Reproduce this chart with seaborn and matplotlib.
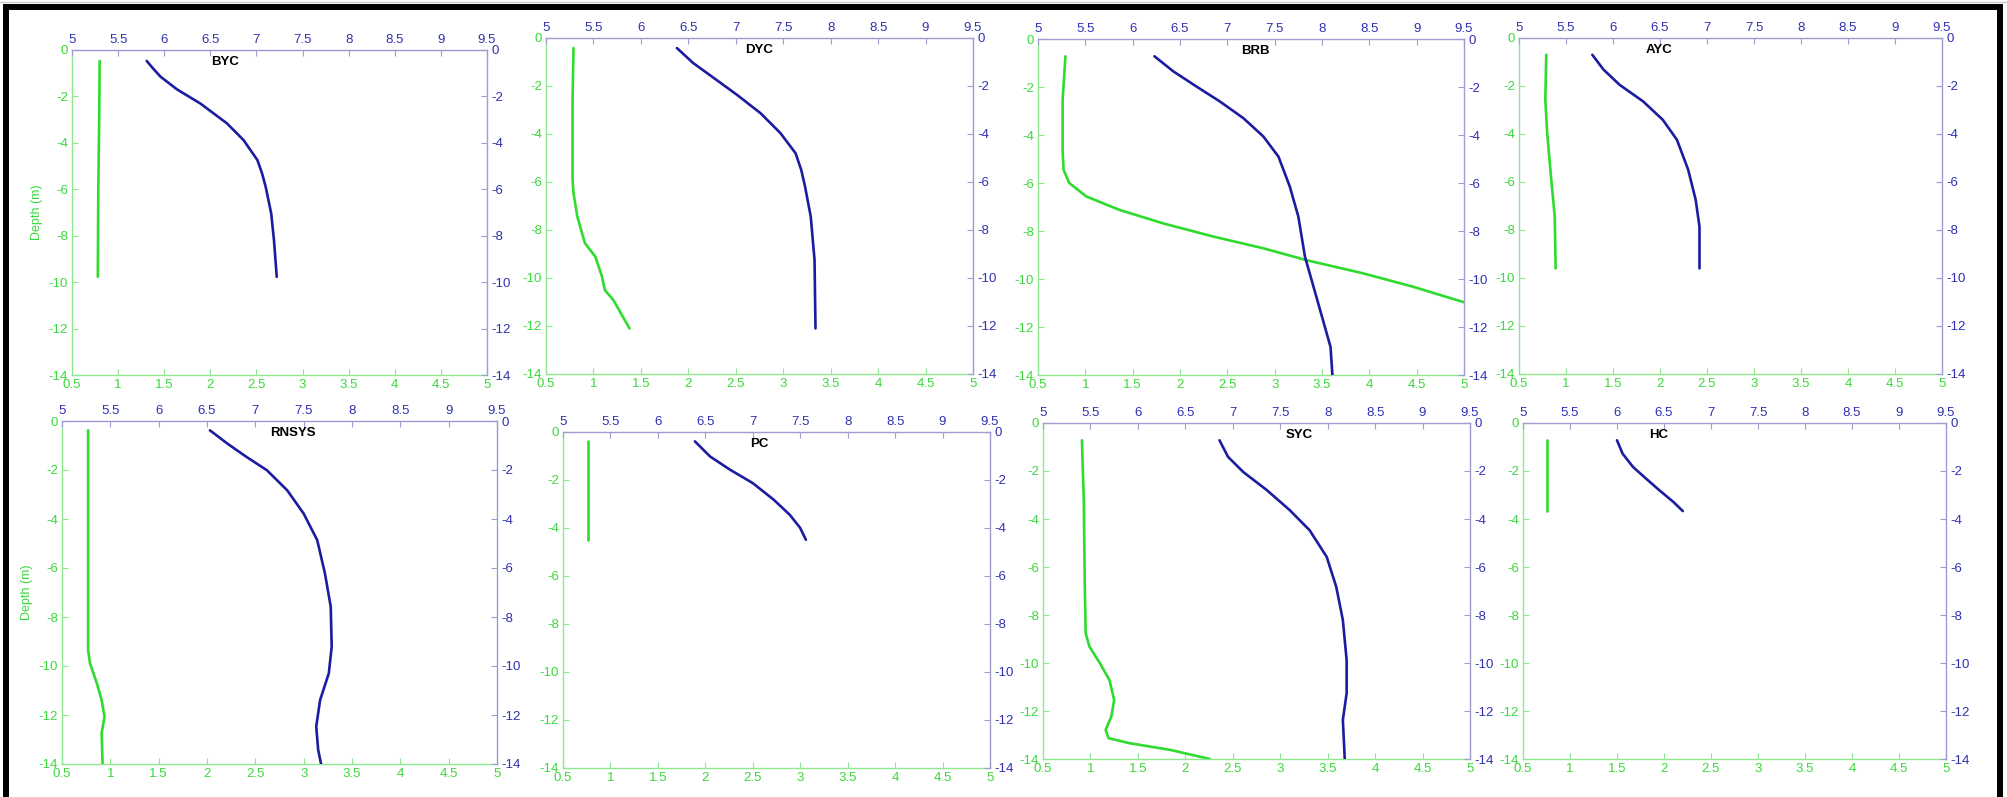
import matplotlib
matplotlib.use("Agg")
import matplotlib.pyplot as plt
import seaborn as sns
from matplotlib.ticker import FuncFormatter, MultipleLocator
from matplotlib.patches import Rectangle

sns.set_theme(style="white")
plt.rcParams['font.family'] = ['Liberation Sans', 'DejaVu Sans']
plt.rcParams['axes.unicode_minus'] = False

# ---- profile data (green on bottom scale 0.5-5, blue on top scale 5-9.5) ----
byc_g_depth = [-0.47, -3.0, -6.0, -9.77]
byc_green = [0.80, 0.795, 0.785, 0.78]
byc_b_depth = [-0.47, -0.8, -1.15, -1.7, -2.3, -3.16, -3.88, -4.74, -5.3, -5.89, -7.04, -8.19, -9.77]
byc_blue = [5.81, 5.88, 5.96, 6.14, 6.39, 6.68, 6.86, 7.01, 7.06, 7.10, 7.16, 7.19, 7.22]

dyc_g_depth = [-0.42, -2.57, -5.91, -6.47, -7.44, -8.55, -9.11, -9.94, -10.5, -10.92, -12.1]
dyc_green = [0.79, 0.78, 0.78, 0.79, 0.83, 0.91, 1.02, 1.09, 1.12, 1.21, 1.38]
dyc_b_depth = [-0.42, -1.04, -1.67, -2.36, -3.13, -3.96, -4.80, -5.5, -6.19, -7.44, -9.25, -12.1]
dyc_blue = [6.38, 6.55, 6.77, 7.01, 7.26, 7.47, 7.63, 7.69, 7.73, 7.79, 7.83, 7.84]

brb_g_depth = [-0.72, -2.53, -4.62, -5.45, -6.0, -6.56, -7.12, -7.68, -8.23, -8.72, -9.21, -9.76, -10.32, -10.97]
brb_green = [0.79, 0.76, 0.76, 0.77, 0.83, 1.01, 1.36, 1.82, 2.35, 2.88, 3.33, 3.93, 4.46, 5.0]
brb_b_depth = [-0.72, -1.35, -1.97, -2.60, -3.30, -4.06, -4.90, -6.15, -7.40, -9.07, -10.04, -11.71, -12.83, -14.0]
brb_blue = [6.23, 6.43, 6.67, 6.92, 7.17, 7.38, 7.54, 7.66, 7.75, 7.82, 7.89, 8.01, 8.09, 8.11]

ayc_g_depth = [-0.70, -2.57, -3.96, -5.77, -7.44, -9.60]
ayc_green = [0.79, 0.78, 0.80, 0.84, 0.88, 0.89]
ayc_b_depth = [-0.70, -1.32, -1.95, -2.64, -3.41, -4.24, -5.49, -6.75, -7.86, -9.60]
ayc_blue = [5.78, 5.90, 6.07, 6.32, 6.53, 6.68, 6.80, 6.88, 6.92, 6.92]

rnsys_g_depth = [-0.38, -4.59, -9.35, -9.89, -10.7, -11.39, -12.07, -12.74, -14.0]
rnsys_green = [0.77, 0.77, 0.77, 0.79, 0.86, 0.91, 0.94, 0.91, 0.92]
rnsys_b_depth = [-0.38, -0.92, -1.47, -2.01, -2.83, -3.78, -4.86, -6.22, -7.58, -9.21, -10.3, -11.39, -12.47, -13.42, -14.0]
rnsys_blue = [6.53, 6.71, 6.91, 7.12, 7.33, 7.50, 7.64, 7.72, 7.78, 7.79, 7.76, 7.67, 7.63, 7.65, 7.68]

pc_g_depth = [-0.39, -4.49]
pc_green = [0.76, 0.76]
pc_b_depth = [-0.39, -1.02, -1.57, -2.13, -2.82, -3.45, -4.0, -4.49]
pc_blue = [6.39, 6.55, 6.76, 7.00, 7.22, 7.39, 7.50, 7.56]

syc_g_depth = [-0.72, -3.22, -6.69, -8.77, -9.32, -10.01, -10.71, -11.54, -12.23, -12.79, -13.13, -13.34, -13.62, -14.0]
syc_green = [0.91, 0.93, 0.94, 0.95, 0.99, 1.10, 1.20, 1.25, 1.22, 1.16, 1.19, 1.41, 1.84, 2.26]
syc_b_depth = [-0.72, -1.41, -2.04, -2.80, -3.63, -4.47, -5.58, -6.82, -8.21, -9.88, -11.26, -12.37, -14.0]
syc_blue = [6.86, 6.95, 7.11, 7.36, 7.60, 7.81, 7.99, 8.09, 8.16, 8.20, 8.20, 8.16, 8.18]

hc_g_depth = [-0.72, -3.67]
hc_green = [0.76, 0.76]
hc_b_depth = [-0.72, -1.28, -1.83, -2.32, -2.80, -3.29, -3.67]
hc_blue = [6.00, 6.06, 6.17, 6.31, 6.45, 6.60, 6.70]

stations = ["BYC", "DYC", "BRB", "AYC", "RNSYS", "PC", "SYC", "HC"]

# ---- layout (pixel boxes of each panel, title position in axes fraction) ----
W, H = 2007, 797
boxes = {
    "BYC": (72, 50, 487, 375), "DYC": (546, 38, 973, 374),
    "BRB": (1038, 39, 1464, 375), "AYC": (1519, 38, 1942, 374),
    "RNSYS": (62, 421, 497, 764), "PC": (563, 432, 990, 768),
    "SYC": (1043, 423, 1470, 759), "HC": (1523, 423, 1946, 759),
}
title_x = {"BYC": 0.37, "DYC": 0.50, "BRB": 0.51, "AYC": 0.33,
           "RNSYS": 0.53, "PC": 0.46, "SYC": 0.60, "HC": 0.32}

GREEN = "#2edb2e"
GREEN_AX = "#8fe88f"
GREEN_TXT = "#3ad83a"
BLUE = "#1c1ca0"
BLUE_AX = "#9d9dd2"
BLUE_TXT = "#3030b0"
FS = 9.5

fmt = FuncFormatter(lambda v, p: f"{v:g}")

fig = plt.figure(figsize=(W / 100, H / 100), dpi=100)

for name in stations:
    key = name.lower()
    g_d, g_x = globals()[key + "_g_depth"], globals()[key + "_green"]
    b_d, b_x = globals()[key + "_b_depth"], globals()[key + "_blue"]
    x0, y0, x1, y1 = boxes[name]
    rect = [x0 / W, 1 - y1 / H, (x1 - x0) / W, (y1 - y0) / H]

    ax = fig.add_axes(rect)
    ax2 = fig.add_axes(rect, facecolor="none")

    sns.lineplot(x=g_x, y=g_d, sort=False, estimator=None, color=GREEN, linewidth=1.9, ax=ax)
    sns.lineplot(x=b_x, y=b_d, sort=False, estimator=None, color=BLUE, linewidth=1.9, ax=ax2)

    ax.set_xlim(0.5, 5)
    ax.set_ylim(-14, 0)
    ax2.set_xlim(5, 9.5)
    ax2.set_ylim(-14, 0)
    for a in (ax, ax2):
        a.xaxis.set_major_locator(MultipleLocator(0.5))
        a.yaxis.set_major_locator(MultipleLocator(2))
        a.xaxis.set_major_formatter(fmt)
        a.yaxis.set_major_formatter(fmt)
        a.set_xlabel("")
        a.set_ylabel("")

    ax2.xaxis.tick_top()
    ax2.yaxis.tick_right()

    for s in ("top", "right"):
        ax.spines[s].set_visible(False)
        ax2.spines[s].set_color(BLUE_AX)
        ax2.spines[s].set_linewidth(1)
    for s in ("bottom", "left"):
        ax.spines[s].set_color(GREEN_AX)
        ax.spines[s].set_linewidth(1)
        ax2.spines[s].set_visible(False)

    ax.tick_params(direction="in", length=4, width=0.8, color=GREEN_AX,
                   labelcolor=GREEN_TXT, labelsize=FS, pad=3,
                   bottom=True, left=True, top=False, right=False)
    ax2.tick_params(direction="in", length=4, width=0.8, color=BLUE_AX,
                    labelcolor=BLUE_TXT, labelsize=FS, pad=3,
                    top=True, right=True, bottom=False, left=False,
                    labeltop=True, labelright=True, labelbottom=False, labelleft=False)

    if name in ("BYC", "RNSYS"):
        ax.set_ylabel("Depth (m)", color=GREEN_TXT, fontsize=9, labelpad=4)

    ax2.text(title_x[name], 0.964, name, transform=ax2.transAxes, ha="center",
             va="center", fontweight="bold", fontsize=FS, color="black")

# black frame around the figure, with the thin grey line above it
frame = Rectangle((6 / W, -0.05), 1994 / W, 1.05 - 7 / H, fill=False, lw=4.3,
                  ec="black", transform=fig.transFigure, figure=fig)
fig.patches.append(frame)
fig.add_artist(plt.Line2D([0, 1], [1 - 2 / H, 1 - 2 / H], color="#c8c8c8",
                          lw=1, transform=fig.transFigure))

fig.savefig("out.png", dpi=100)
